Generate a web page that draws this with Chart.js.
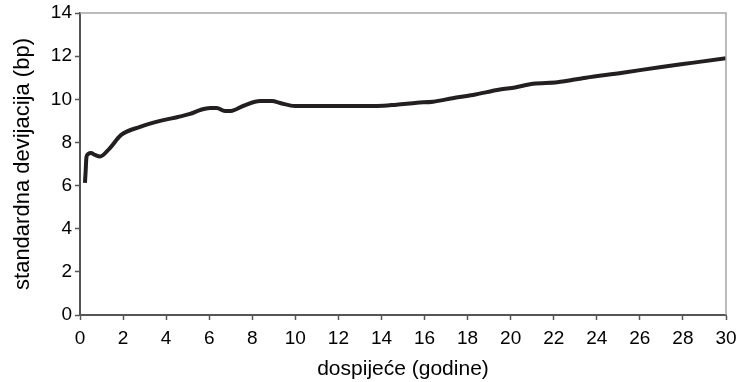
<!DOCTYPE html>
<html>
<head>
<meta charset="utf-8">
<script src="https://cdn.jsdelivr.net/npm/chart.js@4/dist/chart.umd.min.js"></script>
<style>
    html, body { margin: 0; padding: 0; background: #fff; }
    #wrap { width: 736px; height: 382px; position: relative; }
</style>
</head>
<body>
<div id="wrap"><canvas id="stdChart"></canvas></div>
<script>
// dospijeće (godine) and standardna devijacija (bp)
const maturities = [0.23, 0.26, 0.30, 0.37, 0.51, 0.70, 0.93, 1.39, 1.90, 2.79, 3.72, 4.55, 5.11, 5.57, 6.04, 6.35, 6.73, 7.0, 7.6, 8.36, 8.92, 9.29, 9.99, 11.0, 12.0, 13.0, 13.8, 14.7, 15.65, 16.4, 17.3, 18.25, 19.5, 20.2, 21.04, 22.16, 23.5, 25.2, 27.0, 28.5, 30.0];
const stdDev = [6.12, 6.63, 7.32, 7.46, 7.51, 7.42, 7.35, 7.74, 8.34, 8.72, 9.0, 9.18, 9.32, 9.5, 9.6, 9.6, 9.46, 9.46, 9.7, 9.92, 9.92, 9.83, 9.69, 9.69, 9.69, 9.69, 9.69, 9.75, 9.84, 9.89, 10.05, 10.2, 10.45, 10.55, 10.72, 10.79, 11.0, 11.23, 11.5, 11.7, 11.9];
const xTicks = [0, 2, 4, 6, 8, 10, 12, 14, 16, 18, 20, 22, 24, 26, 28, 30];
const yTicks = [0, 2, 4, 6, 8, 10, 12, 14];

const fontFamily = '"Liberation Sans", Arial, Helvetica, sans-serif';

// gray plot-area frame on the top and right (Excel style)
const frame = {
    id: 'frame',
    afterDatasetsDraw(chart) {
        const a = chart.chartArea;
        const ctx = chart.ctx;
        ctx.save();
        ctx.strokeStyle = '#a6a6a6';
        ctx.lineWidth = 1.5;
        ctx.beginPath();
        ctx.moveTo(a.left, a.top);
        ctx.lineTo(a.right, a.top);
        ctx.lineTo(a.right, a.bottom);
        ctx.stroke();
        ctx.restore();
    }
};

const data = {
    datasets: [{
        label: 'standardna devijacija',
        data: maturities.map((m, i) => ({ x: m, y: stdDev[i] })),
        borderColor: '#231f20',
        borderWidth: 4,
        pointRadius: 0,
        cubicInterpolationMode: 'monotone',
        fill: false
    }]
};

const config = {
    type: 'line',
    data: data,
    options: {
        responsive: false,
        animation: false,
        layout: { padding: { top: 13, right: 10, left: 0, bottom: 0 } },
        plugins: {
            legend: { display: false },
            tooltip: { enabled: false }
        },
        scales: {
            x: {
                type: 'linear',
                min: 0,
                max: 30,
                afterBuildTicks: axis => { axis.ticks = xTicks.map(v => ({ value: v })); },
                afterFit: axis => {
                    axis.height = 67;
                    axis.paddingLeft = 0;
                    axis.paddingRight = 0;
                },
                grid: { drawOnChartArea: false, tickLength: 5, color: '#555', tickWidth: 1.5 },
                border: { color: '#555', width: 2 },
                ticks: { color: '#000', padding: 7, maxRotation: 0, font: { family: fontFamily, size: 19 } },
                title: {
                    display: true,
                    text: 'dospijeće (godine)',
                    color: '#000',
                    padding: { top: 4, bottom: 0 },
                    font: { family: fontFamily, size: 21 }
                }
            },
            y: {
                min: 0,
                max: 14,
                afterBuildTicks: axis => { axis.ticks = yTicks.map(v => ({ value: v })); },
                afterFit: axis => {
                    axis.width = 80;
                    axis.paddingTop = 0;
                    axis.paddingBottom = 0;
                },
                grid: { drawOnChartArea: false, tickLength: 5, color: '#555', tickWidth: 1.5 },
                border: { color: '#555', width: 2 },
                ticks: { color: '#000', padding: 3, font: { family: fontFamily, size: 19 } },
                title: {
                    display: true,
                    text: 'standardna devijacija (bp)',
                    color: '#000',
                    padding: { top: 10, bottom: 0 },
                    font: { family: fontFamily, size: 22 }
                }
            }
        }
    },
    plugins: [frame]
};

const canvas = document.getElementById('stdChart');
canvas.width = 736;
canvas.height = 382;
new Chart(canvas, config);
</script>
</body>
</html>
